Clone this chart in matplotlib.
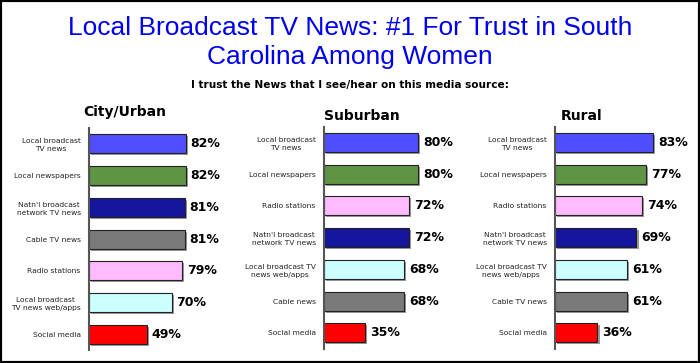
import matplotlib.pyplot as plt
import matplotlib.patheffects as pe
from matplotlib.patches import Rectangle

# ---- data ----
city_labels = ["Local broadcast\nTV news", "Local newspapers", "Natn'l broadcast\nnetwork TV news",
               "Cable TV news", "Radio stations", "Local broadcast\nTV news web/apps", "Social media"]
city_values = [82, 82, 81, 81, 79, 70, 49]

suburban_labels = ["Local broadcast\nTV news", "Local newspapers", "Radio stations",
                   "Natn'l broadcast\nnetwork TV news", "Local broadcast TV\nnews web/apps",
                   "Cable news", "Social media"]
suburban_values = [80, 80, 72, 72, 68, 68, 35]

rural_labels = ["Local broadcast\nTV news", "Local newspapers", "Radio stations",
                "Natn'l broadcast\nnetwork TV news", "Local broadcast TV\nnews web/apps",
                "Cable TV news", "Social media"]
rural_values = [83, 77, 74, 69, 61, 61, 36]

panel_titles = ["City/Urban", "Suburban", "Rural"]

# ---- colours ----
BLUE, GREEN, NAVY, GRAY = "#4f4fff", "#5f9444", "#16169c", "#7a7a7a"
PINK, CYAN, RED = "#ffbbff", "#ccffff", "#ff0000"
city_colors = [BLUE, GREEN, NAVY, GRAY, PINK, CYAN, RED]
other_colors = [BLUE, GREEN, PINK, NAVY, CYAN, GRAY, RED]

W, H = 700, 363
fig = plt.figure(figsize=(7, 3.63), dpi=100)
fig.patch.set_facecolor("white")

def px_axes(left, top, width, height):
    return fig.add_axes([left / W, (H - top - height) / H, width / W, height / H])

fig.text(0.5, 1 - 28 / H, "Local Broadcast TV News: #1 For Trust in South",
         ha="center", va="center", color="#0000ee", fontsize=19, family="Liberation Sans")
fig.text(0.5, 1 - 57 / H, "Carolina Among Women",
         ha="center", va="center", color="#0000ee", fontsize=19, family="Liberation Sans")
fig.text(0.5, 1 - 85 / H, "I trust the News that I see/hear on this media source:",
         ha="center", va="center", fontsize=7.6, fontweight="bold")

panels = [
    (city_labels, city_values, city_colors, 89, 128, 125, 112),
    (suburban_labels, suburban_values, other_colors, 324, 126.5, 362, 116),
    (rural_labels, rural_values, other_colors, 555, 126.5, 582, 116),
]

spacing = 31.75
for (labels, values, colors, x0, top, tx, ty), title in zip(panels, panel_titles):
    ax = px_axes(x0, top, 118, 7 * spacing)
    ypos = list(range(len(values)))
    ax.barh(ypos, values, height=0.6, color=colors, edgecolor="#222222", linewidth=0.8,
            path_effects=[pe.SimplePatchShadow(offset=(1.5, -1.5), shadow_rgbFace="#999999", alpha=1),
                          pe.Normal()])
    for y, v in zip(ypos, values):
        ax.annotate(f"{v}%", (v, y), xytext=(3.5, 0), textcoords="offset points",
                    va="center", ha="left", fontsize=9, fontweight="bold")
    ax.set_xlim(0, 100)
    ax.set_ylim(len(values) - 0.5, -0.5)
    ax.set_yticks(ypos)
    ax.set_yticklabels(labels, fontsize=5.4, color="#222222", multialignment="center",
                       linespacing=1.35)
    ax.tick_params(axis="y", length=0, pad=6)
    ax.set_xticks([])
    for s in ["top", "right", "bottom"]:
        ax.spines[s].set_visible(False)
    ax.spines["left"].set_color("#555555")
    ax.spines["left"].set_linewidth(1.5)
    ax.patch.set_visible(False)
    fig.text(tx / W, 1 - ty / H, title, ha="center", va="center",
             fontsize=10, fontweight="bold")

fig.patches.append(Rectangle((0, 0), 1, 1, transform=fig.transFigure, fill=False,
                             edgecolor="black", linewidth=3, zorder=10))

fig.savefig("out.png", dpi=100)
